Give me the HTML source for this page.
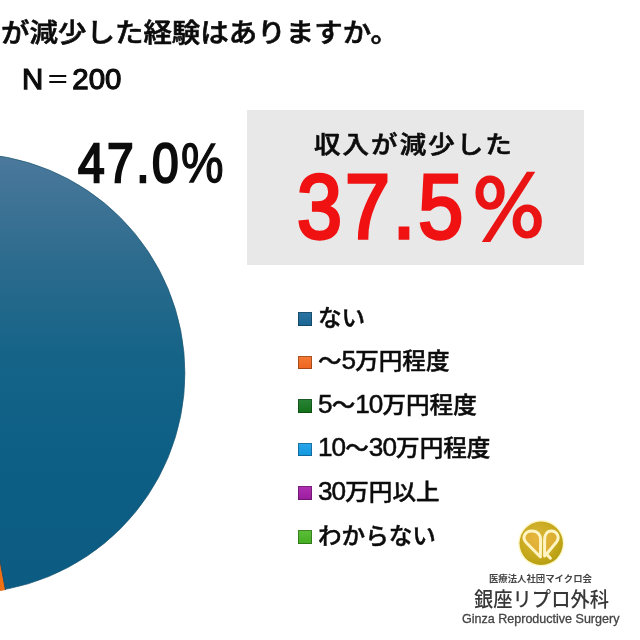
<!DOCTYPE html>
<html lang="ja">
<head>
<meta charset="utf-8">
<title>収入が減少した経験はありますか</title>
<style>
*{margin:0;padding:0;box-sizing:border-box}
html,body{width:640px;height:640px;overflow:hidden;background:#fff}
body{position:relative;font-family:"Liberation Sans","Noto Sans CJK JP",sans-serif;color:#111}
.abs{position:absolute;white-space:nowrap;line-height:1;transform-origin:0 0}
#pie{position:absolute;left:0;top:0;width:640px;height:640px}
#title{left:1.4px;top:20.2px;font-size:28px;font-weight:500;color:#0c0c0c;-webkit-text-stroke:.65px #0c0c0c;transform:scale(1.017,.94)}
#n{left:22.4px;top:64.3px;font-size:30px;font-weight:400;color:#0c0c0c;-webkit-text-stroke:1.25px #0c0c0c;transform:scale(.98,1)}
#n .eq{display:inline-block;width:29.7px;text-align:center;font-size:24px;vertical-align:1.5px;font-weight:500;-webkit-text-stroke:0}
#p47{left:77.6px;top:135.4px;font-size:56px;font-weight:400;letter-spacing:2.9px;color:#0c0c0c;-webkit-text-stroke:2.3px #0c0c0c;transform:scaleX(.855)}
#p47 span{-webkit-text-stroke:1.3px #0c0c0c}
#box{position:absolute;left:247px;top:110px;width:337px;height:155px;background:#e8e8e8}
#boxt{left:313.6px;top:132.7px;font-size:26px;font-weight:500;letter-spacing:2px;color:#0c0c0c;-webkit-text-stroke:.65px #0c0c0c;transform:scale(1.02,.91)}
#p37{left:296.6px;top:161.3px;font-size:91px;font-weight:400;letter-spacing:3.2px;color:#f01212;-webkit-text-stroke:3.4px #f01212;transform:scaleX(.89)}
#pc{left:469.5px;top:170.6px;font-family:"Liberation Sans","IPAGothic","Noto Sans CJK JP",sans-serif;font-size:86px;font-weight:400;color:#ea1414;-webkit-text-stroke:2.2px #ea1414;transform:scale(.9,.888)}
.lg{position:absolute;left:297.5px;height:14px;white-space:nowrap}
.lg i{position:absolute;left:0;top:0;width:14px;height:13.8px;display:block;box-shadow:inset 0 0 0 1px rgba(0,0,0,.3)}
.lg span{position:absolute;left:20.5px;top:-5.3px;font-size:23px;line-height:1;font-weight:500;color:#0c0c0c;-webkit-text-stroke:.45px #0c0c0c;transform-origin:0 0;transform:scale(1.025,.975)}
.lg b{font-weight:400;font-size:25.5px;line-height:0;letter-spacing:-.9px;-webkit-text-stroke:.5px #0c0c0c}
#lt1{left:488.5px;top:575.4px;font-size:9.2px;font-weight:700;color:#444;transform:scale(1.02,.96)}
#lt2{left:473.5px;top:590.4px;font-size:19px;font-weight:500;color:#383838;transform:scale(1.015,1.07)}
#lt3{left:462px;top:613px;font-size:12.6px;font-weight:400;color:#444;-webkit-text-stroke:.3px #444;transform:scale(.995,1)}
</style>
</head>
<body>
<svg id="pie" viewBox="0 0 640 640">
  <defs>
    <linearGradient id="gb" x1="0" y1="155" x2="0" y2="590" gradientUnits="userSpaceOnUse">
      <stop offset="0" stop-color="#4b799c"/>
      <stop offset="0.25" stop-color="#2c6b8d"/>
      <stop offset="0.457" stop-color="#156488"/>
      <stop offset="0.687" stop-color="#0e5f86"/>
      <stop offset="1" stop-color="#0b5b82"/>
    </linearGradient>
    <radialGradient id="gg" cx="0.42" cy="0.38" r="0.65">
      <stop offset="0" stop-color="#dcb93c"/>
      <stop offset="0.7" stop-color="#c6a81c"/>
      <stop offset="1" stop-color="#b59d10"/>
    </radialGradient>
  </defs>
  <circle cx="-35" cy="373.2" r="219.9" fill="url(#gb)" stroke="#1c5572" stroke-opacity=".75" stroke-width=".9"/>
  <path d="M-35 373.2 L5.5 590 A220 220 0 0 1 -60 592 Z" fill="#f07016"/>
  <path d="M-35 373.2 L5.5 590" stroke="#1b4f6e" stroke-width="1" fill="none"/>
  <circle cx="541.2" cy="543.3" r="23.2" fill="#fdf8cc"/>
  <circle cx="541.2" cy="543.3" r="21.7" fill="url(#gg)"/>
  <g fill="rgba(240,178,64,.5)" stroke="#fff5c4" stroke-width="3" stroke-linejoin="round" stroke-linecap="round">
    <path d="M540.4 557 L526.4 542.8 C521.4 537.4 525 531 531.8 531 C537.6 531 540.6 535 540.6 540 Z"/>
    <path d="M544.6 556 L544.6 540 C544.6 535 547 531 551.2 531 C557.4 531 560.2 537.4 556.2 542.4 L546.6 554"/>
    <path d="M546 553.6 L550.4 558.2" fill="none"/>
  </g>
</svg>
<div id="title" class="abs">が減少した経験はありますか。</div>
<div id="n" class="abs">N<span class="eq">＝</span>200</div>
<div id="p47" class="abs">47.0<span>%</span></div>
<div id="box"></div>
<div id="boxt" class="abs">収入が減少した</div>
<div id="p37" class="abs">37.5</div>
<div id="pc" class="abs">％</div>
<div class="lg" style="top:312px"><i style="background:linear-gradient(#2a74a4,#1b6592)"></i><span>ない</span></div>
<div class="lg" style="top:355.7px"><i style="background:linear-gradient(#f47a34,#ee6420)"></i><span>〜<b>5</b>万円程度</span></div>
<div class="lg" style="top:399.2px"><i style="background:linear-gradient(#2a8438,#127018)"></i><span><b>5</b>〜<b>10</b>万円程度</span></div>
<div class="lg" style="top:442.6px"><i style="background:linear-gradient(#2aa6ec,#1298de)"></i><span><b>10</b>〜<b>30</b>万円程度</span></div>
<div class="lg" style="top:486.3px"><i style="background:linear-gradient(#b030b2,#9a1c9e)"></i><span><b>30</b>万円以上</span></div>
<div class="lg" style="top:530.2px"><i style="background:linear-gradient(#5cbe38,#44ae22)"></i><span>わからない</span></div>
<div id="lt1" class="abs">医療法人社団マイクロ会</div>
<div id="lt2" class="abs">銀座リプロ外科</div>
<div id="lt3" class="abs">Ginza Reproductive Surgery</div>
</body>
</html>
